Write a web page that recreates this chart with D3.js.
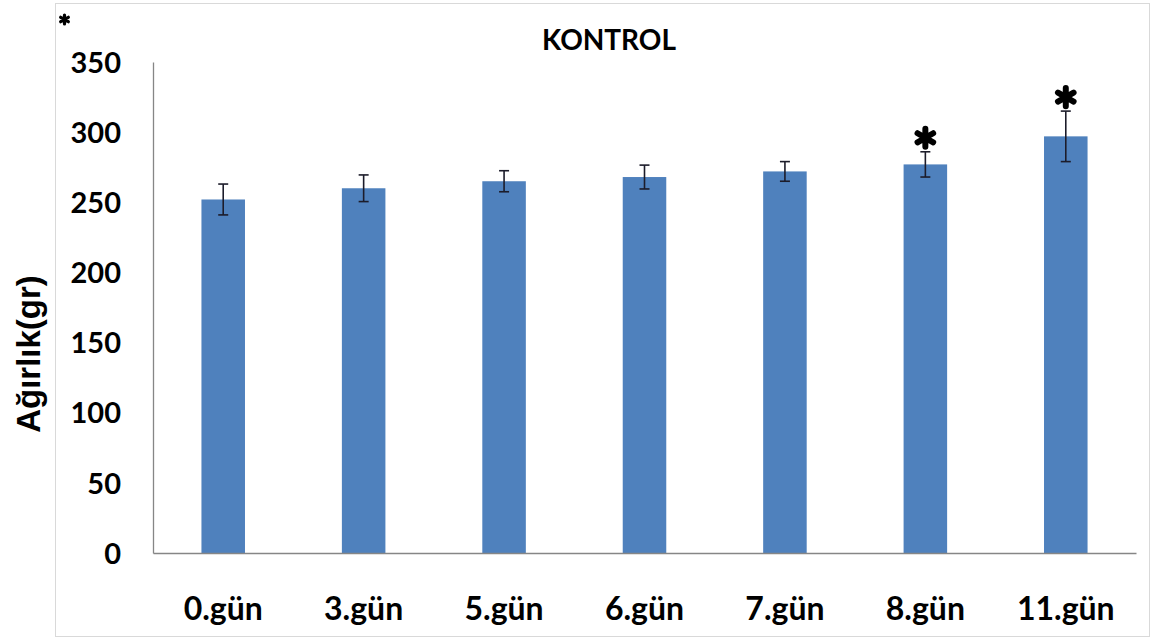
<!DOCTYPE html>
<html>
<head>
<meta charset="utf-8">
<script src="https://cdn.jsdelivr.net/npm/d3@7"></script>
<style>
  body { margin: 0; background: #fff; }
  svg text { font-family: Lato, "Liberation Sans", sans-serif; font-weight: bold; fill: #000; }
</style>
</head>
<body>
<div id="chart"></div>
<script>
var days = ["0.gün", "3.gün", "5.gün", "6.gün", "7.gün", "8.gün", "11.gün"];
var weights = [252, 260, 265, 268, 272, 277, 297];
var errors = [11, 9.5, 7.5, 8.5, 7, 9, 18];
var significant = [false, false, false, false, false, true, true];
var yTicks = [0, 50, 100, 150, 200, 250, 300, 350];

var width = 1161, height = 639;
var plot = { left: 153, right: 1136, top: 62, bottom: 553 };

var svg = d3.select("#chart")
    .append("svg")
    .attr("width", width)
    .attr("height", height);

// outer frame
svg.append("rect")
    .attr("x", 55.5)
    .attr("y", 3.5)
    .attr("width", 1094)
    .attr("height", 633)
    .attr("fill", "#fff")
    .attr("stroke", "#d9d9d9");

var x = d3.scaleBand()
    .domain(days)
    .range([plot.left, plot.right]);

var y = d3.scaleLinear()
    .domain([0, 350])
    .range([plot.bottom, plot.top]);

var barWidth = x.step() * 0.31;

svg.selectAll(".bar")
    .data(days)
    .enter()
    .append("rect")
    .attr("class", "bar")
    .attr("x", function(d) { return x(d) + x.bandwidth() / 2 - barWidth / 2 })
    .attr("y", function(d, i) { return y(weights[i]) })
    .attr("width", barWidth)
    .attr("height", function(d, i) { return y(0) - y(weights[i]) })
    .attr("fill", "#4f81bd");

// error bars
var err = svg.selectAll(".err")
    .data(days)
    .enter()
    .append("g")
    .attr("class", "err")
    .attr("stroke", "#1c1c2a")
    .attr("stroke-width", 1.6);

err.append("line")
    .attr("x1", function(d) { return x(d) + x.bandwidth() / 2 })
    .attr("x2", function(d) { return x(d) + x.bandwidth() / 2 })
    .attr("y1", function(d, i) { return y(weights[i] - errors[i]) })
    .attr("y2", function(d, i) { return y(weights[i] + errors[i]) });

[-1, 1].forEach(function(s) {
    err.append("line")
        .attr("x1", function(d) { return x(d) + x.bandwidth() / 2 - 5 })
        .attr("x2", function(d) { return x(d) + x.bandwidth() / 2 + 5 })
        .attr("y1", function(d, i) { return y(weights[i] + s * errors[i]) })
        .attr("y2", function(d, i) { return y(weights[i] + s * errors[i]) });
});

// significance stars (6-armed, like the office font asterisk)
var star = d3.symbol().type(d3.symbolAsterisk).size(230);
svg.selectAll(".star")
    .data(days.filter(function(d, i) { return significant[i] }))
    .enter()
    .append("path")
    .attr("class", "star")
    .attr("transform", function(d) {
        var i = days.indexOf(d);
        return "translate(" + (x(d) + x.bandwidth() / 2) + "," + (y(weights[i] + errors[i]) - 14) + ")";
    })
    .attr("d", star)
    .attr("fill", "none")
    .attr("stroke", "#000")
    .attr("stroke-width", 6)
    .attr("stroke-linecap", "round");

// axes
var yAxis = d3.axisLeft(y).tickValues(yTicks).tickSize(0).tickPadding(32);
var gy = svg.append("g")
    .attr("transform", "translate(" + plot.left + ",0)")
    .call(yAxis);
gy.select(".domain").attr("stroke", "#868686").attr("stroke-width", 1.3);
gy.selectAll("text")
    .style("font-size", "29px")
    .style("font-family", "Lato, sans-serif")
    .attr("dy", "0.35em");

var xAxis = d3.axisBottom(x).tickSize(0).tickPadding(44);
var gx = svg.append("g")
    .attr("transform", "translate(0," + plot.bottom + ")")
    .call(xAxis);
gx.select(".domain").attr("stroke", "#868686").attr("stroke-width", 1.3);
gx.selectAll("text")
    .style("font-size", "32px")
    .style("font-family", "Lato, sans-serif");

// title
svg.append("text")
    .attr("x", 609)
    .attr("y", 50)
    .attr("text-anchor", "middle")
    .style("font-size", "28px")
    .text("KONTROL");

svg.append("text")
    .attr("transform", "translate(40,354) rotate(-90)")
    .attr("text-anchor", "middle")
    .style("font-family", "'Liberation Sans', Arial, sans-serif")
    .style("font-size", "33px")
    .text("Ağırlık(gr)");

// small star in the top-left corner
svg.append("path")
    .attr("transform", "translate(64.5,19.5)")
    .attr("d", d3.symbol().type(d3.symbolAsterisk).size(55)())
    .attr("fill", "none")
    .attr("stroke", "#000")
    .attr("stroke-width", 3.2)
    .attr("stroke-linecap", "round");
</script>
</body>
</html>
